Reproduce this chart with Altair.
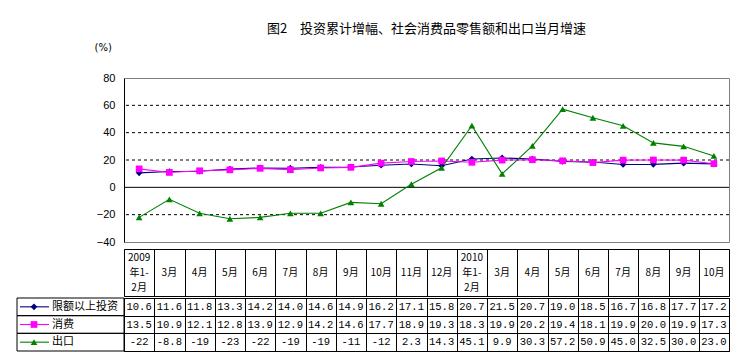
import altair as alt
import pandas as pd

# ---- data ----
cat_labels = ["2009|年1-|2月", "3月", "4月", "5月", "6月", "7月", "8月", "9月", "10月", "11月", "12月",
              "2010|年1-|2月", "3月", "4月", "5月", "6月", "7月", "8月", "9月", "10月"]
series_names = ["限额以上投资", "消费", "出口"]
investment = [10.6, 11.6, 11.8, 13.3, 14.2, 14.0, 14.6, 14.9, 16.2, 17.1, 15.8,
              20.7, 21.5, 20.7, 19.0, 18.5, 16.7, 16.8, 17.7, 17.2]
consumption = [13.5, 10.9, 12.1, 12.8, 13.9, 12.9, 14.2, 14.6, 17.7, 18.9, 19.3,
               18.3, 19.9, 20.2, 19.4, 18.1, 19.9, 20.0, 19.9, 17.3]
exports = [-22, -8.8, -19, -23, -22, -19, -19, -11, -12, 2.3, 14.3,
           45.1, 9.9, 30.3, 57.2, 50.9, 45.0, 32.5, 30.0, 23.0]
series_colors = ["#000080", "#FF00FF", "#008000"]
series_shapes = ["diamond", "square", "triangle-up"]
y_ticks = [-40, -20, 0, 20, 40, 60, 80]
dashed_grid = [60, 40, 20, -20]
title_text = "图2　投资累计增幅、社会消费品零售额和出口当月增速"


def fmt(v):
    if v < 0 and abs(v) >= 10:
        return f"{v:.0f}"
    return f"{v:.1f}"


idx = list(range(len(cat_labels)))
rows = []
for name, vals in zip(series_names, [investment, consumption, exports]):
    for i, v in zip(idx, vals):
        rows.append({"idx": i, "series": name, "value": v, "text": fmt(v)})
df = pd.DataFrame(rows)
df_cats = pd.DataFrame({"idx": idx, "label": cat_labels})
df_series = pd.DataFrame({"series": series_names})
df_grid = pd.DataFrame({"value": dashed_grid})
df_zero = pd.DataFrame({"value": [0]})

W = 605
CJK = "Noto Sans CJK SC"
MONO = "Liberation Mono"

color_scale = alt.Scale(domain=series_names, range=series_colors)
shape_scale = alt.Scale(domain=series_names, range=series_shapes)
y_scale = alt.Scale(domain=[-40, 80], nice=False, zero=False)
x_point = alt.Scale(type="point", domain=idx, padding=0.5)
x_band = alt.Scale(type="band", domain=idx, paddingInner=0, paddingOuter=0)
row_band = alt.Scale(type="band", domain=series_names, paddingInner=0, paddingOuter=0)

# ---- top line chart ----
y_axis = alt.Axis(values=y_ticks, grid=False, ticks=False, labelPadding=9,
                  labelOverlap=False, labelFlush=False, labelBound=False,
                  domainColor="black", labelFont="Liberation Sans", labelFontSize=11,
                  labelColor="black",
                  title="(%)", titleAngle=0, titleAlign="left", titleBaseline="middle",
                  titleX=-30, titleY=-31, titleFont="DejaVu Sans", titleFontSize=10,
                  titleFontWeight="normal", titleColor="black")
y_enc = alt.Y("value:Q", scale=y_scale, axis=y_axis)

grid = alt.Chart(df_grid).mark_rule(color="black", strokeDash=[3, 3], strokeWidth=1).encode(
    y=y_enc)
zero = alt.Chart(df_zero).mark_rule(color="black", strokeWidth=1).encode(y=y_enc)
lines = alt.Chart(df).mark_line(strokeWidth=1.1).encode(
    x=alt.X("idx:O", scale=x_point, axis=None),
    y=y_enc,
    color=alt.Color("series:N", scale=color_scale, legend=None),
    detail="series:N",
)
points = alt.Chart(df).mark_point(filled=True, size=45, opacity=1).encode(
    x=alt.X("idx:O", scale=x_point, axis=None),
    y=y_enc,
    color=alt.Color("series:N", scale=color_scale, legend=None),
    shape=alt.Shape("series:N", scale=shape_scale, legend=None),
)
top = alt.layer(grid, zero, lines, points).properties(
    width=W, height=164,
    title=alt.Title(title_text, font=CJK, fontSize=13, fontWeight="normal", color="black",
                    anchor="middle", offset=6),
    view=alt.ViewBackground(stroke="#808080"),
)

# ---- header row (category labels) ----
grid_axis_x = alt.Axis(grid=True, tickBand="extent", labels=False, ticks=False, domain=False,
                       title=None, gridColor="black", gridOpacity=1, gridWidth=1)
header_base = alt.Chart(df_cats).encode(
    x=alt.X("idx:O", scale=x_band, axis=grid_axis_x),
    text="label:N",
)
header_multi = header_base.transform_filter("indexof(datum.label, '|') >= 0").mark_text(
    lineBreak="|", font=CJK, fontSize=10, lineHeight=15, color="black", dy=-15)
header_single = header_base.transform_filter("indexof(datum.label, '|') < 0").mark_text(
    font=CJK, fontSize=10, color="black")
header = alt.layer(header_multi, header_single).properties(
    width=W, height=47, view=alt.ViewBackground(stroke="black"))

# ---- data table ----
row_axis = alt.Axis(grid=True, tickBand="extent", labels=False, ticks=False, domain=False,
                    title=None, gridColor="black", gridOpacity=1, gridWidth=1)
cells = alt.Chart(df).mark_text(font=MONO, fontSize=10.5, color="black").encode(
    x=alt.X("idx:O", scale=x_band, axis=grid_axis_x),
    y=alt.Y("series:N", scale=row_band, axis=row_axis),
    text="text:N",
)
key_box = alt.Chart(df_series).mark_rect(fill="white", fillOpacity=0, stroke="black",
                                         strokeWidth=1).encode(
    x=alt.value(-107), x2=alt.value(0),
    y=alt.Y("series:N", scale=row_band),
)
key_line = alt.Chart(df_series).mark_rule(strokeWidth=1.1).encode(
    x=alt.value(-104), x2=alt.value(-75),
    y=alt.Y("series:N", scale=row_band, bandPosition=0.5),
    color=alt.Color("series:N", scale=color_scale, legend=None),
)
key_point = alt.Chart(df_series).mark_point(filled=True, size=45, opacity=1).encode(
    x=alt.value(-90),
    y=alt.Y("series:N", scale=row_band, bandPosition=0.5),
    color=alt.Color("series:N", scale=color_scale, legend=None),
    shape=alt.Shape("series:N", scale=shape_scale, legend=None),
)
key_text = alt.Chart(df_series).mark_text(align="left", font=CJK, fontSize=11,
                                          color="black").encode(
    x=alt.value(-72),
    y=alt.Y("series:N", scale=row_band, bandPosition=0.5),
    text="series:N",
)
table = alt.layer(key_box, cells, key_line, key_point, key_text).properties(
    width=W, height=53, view=alt.ViewBackground(stroke="black"))

chart = alt.vconcat(top, header, table, spacing=0).resolve_scale(
    x="independent", y="independent", color="shared", shape="shared"
).properties(
    padding={"left": 16, "top": 22, "right": 5, "bottom": 5},
    background="white",
)

chart.save("out.html", embed_options={"renderer": "svg", "actions": False})
